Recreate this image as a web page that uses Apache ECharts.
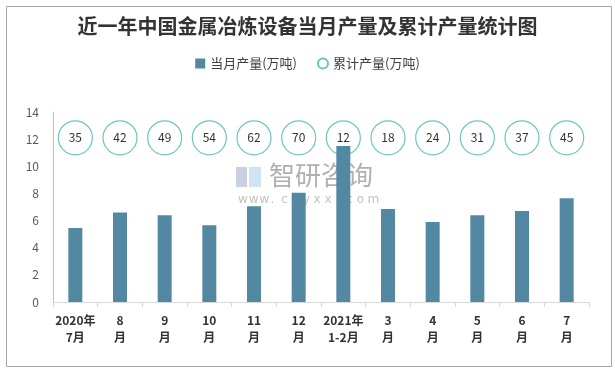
<!DOCTYPE html>
<html>
<head>
<meta charset="utf-8">
<script src="https://cdn.jsdelivr.net/npm/echarts@6/dist/echarts.min.js"></script>
<style>
html,body{margin:0;padding:0;background:#fff;}
#chart{width:615px;height:370px;}
</style>
</head>
<body>
<div id="chart"></div>
<script>
// ---- data ----
var categories = ['2020年\n7月', '8\n月', '9\n月', '10\n月', '11\n月', '12\n月', '2021年\n1-2月', '3\n月', '4\n月', '5\n月', '6\n月', '7\n月'];
var monthlyOutput = [5.45, 6.6, 6.4, 5.65, 7.05, 8.05, 11.5, 6.85, 5.9, 6.4, 6.7, 7.65];
var cumulativeOutput = [35, 42, 49, 54, 62, 70, 12, 18, 24, 31, 37, 45];
var cumulativeRowLevel = [12.1, 12.1, 12.1, 12.1, 12.1, 12.1, 12.1, 12.1, 12.1, 12.1, 12.1, 12.1];
var yTicks = { min: 0, max: 14, interval: 2 };
var titleText = '近一年中国金属冶炼设备当月产量及累计产量统计图';
var seriesNames = ['当月产量(万吨)', '累计产量(万吨)'];
var watermarkText = '智研咨询';
var watermarkUrl = 'www.chyxx.com';

var chart = echarts.init(document.getElementById('chart'), null, { renderer: 'canvas' });
var FONT = '"Noto Sans CJK SC", "Microsoft YaHei", sans-serif';
var TEAL = '#6cc5c0';
var BAR = '#5288a2';

var urlChars = watermarkUrl.split('').map(function (ch, i) {
  return { type: 'text', style: { x: 2 + i * 10.8, y: 30, text: ch, fill: '#c2c2c2', font: '12px "DejaVu Sans", sans-serif' } };
});

var option = {
  backgroundColor: '#fff',
  animation: false,
  textStyle: { fontFamily: FONT },
  title: {
    text: titleText,
    left: 'center',
    top: 11,
    textStyle: { fontSize: 20, fontWeight: 'bold', color: '#333', fontFamily: FONT }
  },
  legend: {
    top: 52,
    left: 'center',
    itemGap: 20,
    itemWidth: 10,
    itemHeight: 10,
    textStyle: { fontSize: 13, color: '#404040', fontFamily: FONT },
    data: [
      { name: seriesNames[0], icon: 'rect', itemStyle: { color: BAR } },
      { name: seriesNames[1], icon: 'emptyCircle', itemStyle: { color: TEAL, borderColor: TEAL, borderWidth: 1.5 } }
    ]
  },
  grid: { left: 53, right: 26, top: 112, bottom: 68 },
  xAxis: {
    type: 'category',
    data: categories,
    boundaryGap: true,
    axisLine: { show: true, lineStyle: { color: '#d9d9d9', width: 1 } },
    axisTick: { show: true, alignWithLabel: false, length: 5, lineStyle: { color: '#d9d9d9' } },
    axisLabel: {
      interval: 0,
      margin: 10,
      fontSize: 12,
      fontWeight: 'bold',
      color: '#333',
      lineHeight: 17,
      fontFamily: FONT
    }
  },
  yAxis: {
    type: 'value',
    min: yTicks.min,
    max: yTicks.max,
    interval: yTicks.interval,
    axisLine: { show: true, lineStyle: { color: '#bfbfbf', width: 1 } },
    axisTick: { show: false },
    splitLine: { show: false },
    axisLabel: { fontSize: 12, color: '#595959', margin: 14, fontFamily: FONT }
  },
  graphic: [
    {
      type: 'rect',
      left: 4, top: 4,
      shape: { width: 605, height: 360 },
      style: { fill: 'none', stroke: '#a6a6a6', lineWidth: 1 },
      silent: true, z: 100
    },
    {
      type: 'group',
      left: 236, top: 162, z: -1,
      children: [
        { type: 'rect', shape: { x: 0, y: 3, width: 11, height: 20 }, style: { fill: '#c9d0e2' } },
        { type: 'rect', shape: { x: 13, y: 3, width: 12, height: 20 }, style: { fill: '#cfe3f2' } },
        { type: 'text', style: { x: 33, y: -2, text: watermarkText, fill: '#b0b0b0', font: '26px "Noto Sans CJK SC", sans-serif' } }
      ].concat(urlChars)
    }
  ],
  series: [
    {
      name: seriesNames[0],
      type: 'bar',
      data: monthlyOutput,
      barWidth: 14,
      itemStyle: { color: BAR },
      z: 3
    },
    {
      name: seriesNames[1],
      type: 'scatter',
      data: cumulativeRowLevel.map(function (v, i) { return [categories[i], v, cumulativeOutput[i]]; }),
      symbol: 'circle',
      symbolSize: 34,
      itemStyle: { color: '#fff', borderColor: TEAL, borderWidth: 1.2, opacity: 1 },
      label: {
        show: true,
        position: 'inside',
        formatter: function (p) { return p.value[2]; },
        fontSize: 12,
        color: '#333',
        fontFamily: FONT
      },
      z: 2
    }
  ]
};
chart.setOption(option);
</script>
</body>
</html>
